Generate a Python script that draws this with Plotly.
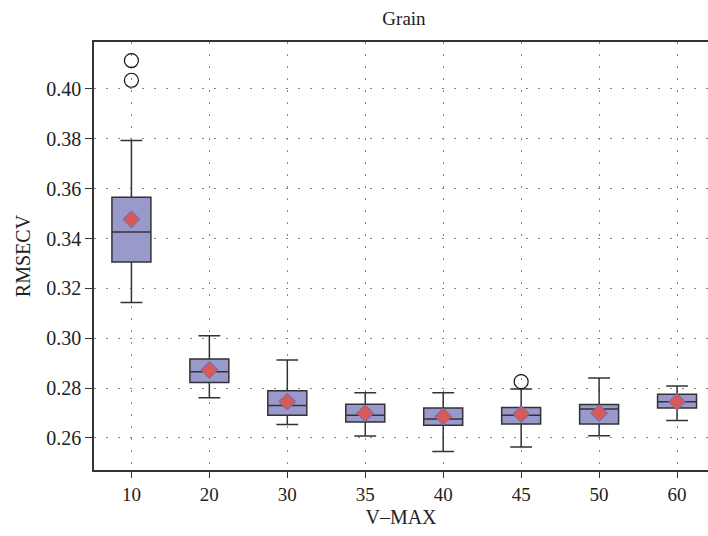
import plotly.graph_objects as go

categories = ["10", "20", "30", "35", "40", "45", "50", "60"]
q1 = [0.3306, 0.2823, 0.2691, 0.2664, 0.2651, 0.2656, 0.2656, 0.2720]
median = [0.3426, 0.2866, 0.2730, 0.2691, 0.2676, 0.2691, 0.2716, 0.2745]
q3 = [0.3566, 0.2917, 0.2790, 0.2735, 0.2720, 0.2722, 0.2734, 0.2775]
lower_whisker = [0.3144, 0.2761, 0.2654, 0.2608, 0.2546, 0.2564, 0.2609, 0.2670]
upper_whisker = [0.3793, 0.3010, 0.2913, 0.2781, 0.2781, 0.2797, 0.2841, 0.2809]
means = [0.3477, 0.2873, 0.2746, 0.2699, 0.2686, 0.2696, 0.2700, 0.2745]
outlier_x = ["10", "10", "45"]
outlier_y = [0.4114, 0.4035, 0.2826]
y_ticks = [0.26, 0.28, 0.30, 0.32, 0.34, 0.36, 0.38, 0.40]

FONT = "Liberation Serif"

fig = go.Figure()
fig.add_trace(go.Box(
    x=categories, q1=q1, median=median, q3=q3,
    lowerfence=lower_whisker, upperfence=upper_whisker,
    boxpoints=False, width=0.5, whiskerwidth=0.56,
    fillcolor="#9999cc", line=dict(color="#333333", width=1.5),
    showlegend=False, hoverinfo="skip",
))
fig.add_trace(go.Scatter(
    x=categories, y=means, mode="markers",
    marker=dict(symbol="diamond", size=13, color="#d65a5a",
                line=dict(color="#6a6ab8", width=1)),
    showlegend=False, hoverinfo="skip",
))
fig.add_trace(go.Scatter(
    x=outlier_x, y=outlier_y, mode="markers",
    marker=dict(symbol="circle-open", size=14, color="#111111",
                line=dict(color="#111111", width=1.2)),
    showlegend=False, hoverinfo="skip",
))

fig.update_layout(
    width=708, height=536,
    margin=dict(l=93.5, r=0, t=42, b=66),
    paper_bgcolor="white", plot_bgcolor="white",
    font=dict(family=FONT, size=19, color="#222222"),
    title=dict(text="Grain", x=404 / 708, xref="container", xanchor="center",
               y=1 - 18 / 536, yref="container", yanchor="middle",
               font=dict(family=FONT, size=19, color="#222222")),
)
fig.update_xaxes(
    type="category", categoryorder="array", categoryarray=categories,
    range=[-0.48, 7.397],
    showline=True, linecolor="#333333", linewidth=1.5, mirror=True,
    ticks="outside", ticklen=6, tickcolor="#333333", tickwidth=1.2,
    showgrid=True, gridcolor="#888888", gridwidth=1, griddash="1.5px,10.5px",
    zeroline=False,
    title=dict(text="V–MAX", standoff=6, font=dict(family=FONT, size=20)),
    tickfont=dict(family=FONT, size=19),
)
fig.update_yaxes(
    range=[0.24716, 0.41885], tickvals=y_ticks, tickformat=".2f",
    showline=True, linecolor="#333333", linewidth=1.5, mirror=False,
    ticks="outside", ticklen=7, tickcolor="#333333", tickwidth=1.2,
    showgrid=True, gridcolor="#888888", gridwidth=1, griddash="1.5px,10.5px",
    zeroline=False,
    title=dict(text="RMSECV", standoff=10, font=dict(family=FONT, size=20)),
    tickfont=dict(family=FONT, size=20),
)

fig.write_html("out.html")
